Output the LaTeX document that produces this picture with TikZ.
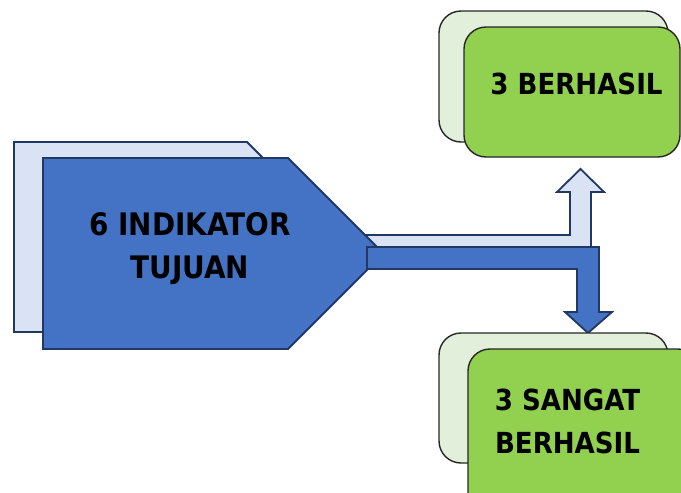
\documentclass[tikz,border=0pt]{standalone}
\usepackage{fontspec}
\setmainfont{DejaVu Sans Condensed}
\definecolor{blueMain}{HTML}{4472C4}
\definecolor{blueLight}{HTML}{DAE3F3}
\definecolor{blueEdge}{HTML}{1F3864}
\definecolor{greenMain}{HTML}{92D050}
\definecolor{greenLight}{HTML}{E2EFDA}
\tikzset{
  bluefront/.style={fill=blueMain, draw=blueEdge, line width=1.8pt, line join=miter},
  blueback/.style={fill=blueLight, draw=blueEdge, line width=1.8pt, line join=miter},
  greenfront/.style={fill=greenMain, draw=black!85, line width=1.4pt, rounded corners=22pt},
  greenback/.style={fill=greenLight, draw=black!85, line width=1.4pt, rounded corners=22pt},
  label/.style={font=\bfseries\fontsize{29}{43}\selectfont, align=center, text=black, inner sep=0pt}
}
\begin{document}
\begin{tikzpicture}[x=1pt, y=-1pt]
  \useasboundingbox (0,0) rectangle (681,493);
  \clip (0,0) rectangle (681,493);

  % source pentagon, back sheet
  \draw[blueback] (14,142) -- (247,142) -- (342,237) -- (247,332) -- (14,332) -- cycle;

  % light block arrow pointing up
  \draw[blueback] (340,235) -- (570,235) -- (570,192) -- (557,192) -- (580.5,169)
    -- (604,192) -- (591,192) -- (591,257) -- (340,257) -- cycle;

  % source pentagon, front sheet
  \draw[bluefront] (43,158) -- (288,158) -- (383.5,253.5) -- (288,349) -- (43,349) -- cycle;

  % dark block arrow pointing down
  \draw[bluefront] (367,247) -- (599,247) -- (599,312) -- (612,312) -- (588,333)
    -- (565,312) -- (577,312) -- (577,269) -- (367,269) -- cycle;

  % upper result card
  \draw[greenback] (439,11) rectangle (668,142);
  \draw[greenfront] (464,27) rectangle (680,157);

  % lower result card
  \draw[greenback] (439,333) rectangle (668,463);
  \draw[greenfront] (468,349) rectangle (700,520);

  % labels
  \node[label, font=\bfseries\fontsize{31}{43}\selectfont] (src) at (190,249) {6 INDIKATOR\\TUJUAN};
  \node[label] (ok) at (576.5,84) {3 BERHASIL};
  \node[label] (great) at (567.5,421) {3 SANGAT\\BERHASIL};
\end{tikzpicture}
\end{document}
